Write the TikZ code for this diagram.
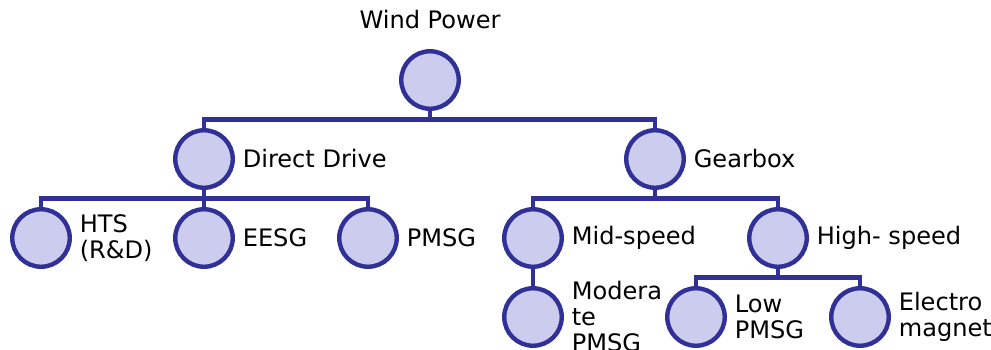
\documentclass[tikz,border=0pt]{standalone}
\usepackage{fontspec}
\setmainfont{DejaVu Sans}
\usepackage{xcolor}
\usetikzlibrary{positioning}

\definecolor{treeblue}{RGB}{48,48,150}
\definecolor{treefill}{RGB}{204,204,238}

\begin{document}
\begin{tikzpicture}[
    node distance=1.58cm,
    dot/.style={
        circle,
        draw=treeblue,
        fill=treefill,
        on grid,
        minimum size=1.15cm,
        inner sep=0pt,
        line width=2.5pt
    },
    tag/.style={
        anchor=west,
        inner sep=0pt,
        align=left,
        font=\fontsize{13.7}{14.8}\selectfont
    },
    branch/.style={
        draw=treeblue,
        line width=2.5pt
    }
]
    \useasboundingbox (0,0) rectangle (19.82,-6.98);

    % Circles
    \node [dot] (wind) at (8.6,-1.6) {};
    \node [dot, below left=1.58cm and 4.52cm of wind] (dd) {};
    \node [dot, below right=1.58cm and 4.5cm of wind] (gb) {};
    \node [dot, below left=1.58cm and 3.26cm of dd] (hts) {};
    \node [dot, below=of dd] (eesg) {};
    \node [dot, below right=1.58cm and 3.28cm of dd] (pmsg) {};
    \node [dot, below left=1.58cm and 2.44cm of gb] (mid) {};
    \node [dot, below right=1.58cm and 2.46cm of gb] (high) {};
    \node [dot, below=of mid] (mod) {};
    \node [dot, below left=1.58cm and 1.64cm of high] (low) {};
    \node [dot, below right=1.58cm and 1.64cm of high] (elec) {};

    % Labels
    \node [tag, above=0.4cm of wind] (windtag) {Wind Power};
    \node [tag, right=0.15cm of dd] (ddtag) {Direct Drive};
    \node [tag, right=0.15cm of gb] (gbtag) {Gearbox};
    \node [tag, right=0.15cm of hts] (htstag) {HTS\\(R\&D)};
    \node [tag, right=0.15cm of eesg] (eesgtag) {EESG};
    \node [tag, right=0.15cm of pmsg] (pmsgtag) {PMSG};
    \node [tag, right=0.15cm of mid] (midtag) {Mid-speed};
    \node [tag, right=0.15cm of high] (hightag) {High- speed};
    \node [tag, right=0.15cm of mod] (modtag) {Modera\\te\\PMSG};
    \node [tag, right=0.15cm of low] (lowtag) {Low\\PMSG};
    \node [tag, right=0.15cm of elec] (electag) {Electro\\magnet};

    % Branches
    \path [branch] (wind.south) -- ++(0,-0.17) -| (dd.north);
    \path [branch] (wind.south) -- ++(0,-0.17) -| (gb.north);
    \path [branch] (dd.south) -- ++(0,-0.17) -| (hts.north);
    \path [branch] (dd.south) -- (eesg.north);
    \path [branch] (dd.south) -- ++(0,-0.17) -| (pmsg.north);
    \path [branch] (gb.south) -- ++(0,-0.17) -| (mid.north);
    \path [branch] (gb.south) -- ++(0,-0.17) -| (high.north);
    \path [branch] (mid.south) -- (mod.north);
    \path [branch] (high.south) -- ++(0,-0.17) -| (low.north);
    \path [branch] (high.south) -- ++(0,-0.17) -| (elec.north);
\end{tikzpicture}
\end{document}
